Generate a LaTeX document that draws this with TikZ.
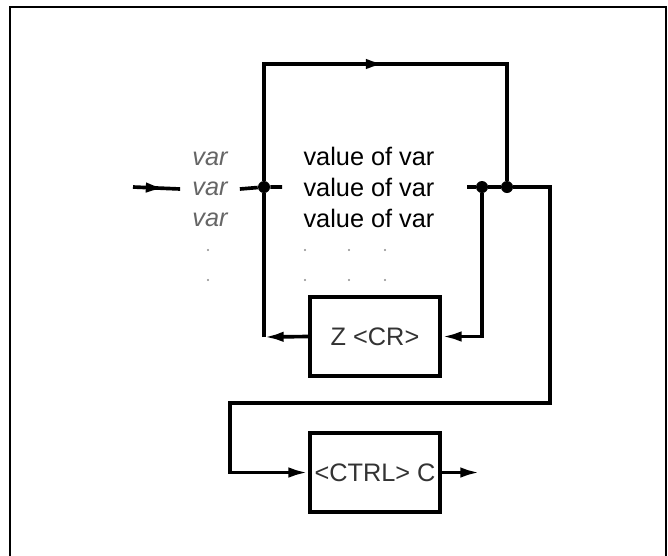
\documentclass[tikz,border=0pt]{standalone}
\usepackage{fontspec}
\setmainfont{Liberation Sans}
\usepackage{tikz}
\usetikzlibrary{arrows.meta, positioning, decorations.markings}

\begin{document}
\begin{tikzpicture}[
  x=0.025cm, y=-0.025cm,
  line/.style={line width=2.6pt},
  tip/.style={-{Latex[length=14pt,width=7.5pt]}},
  midarrow/.style={postaction={decorate, decoration={markings,
      mark=at position #1 with {\arrow{Latex[length=14pt,width=7.5pt]}}}}},
  midarrow/.default=0.5,
  box/.style={rectangle, draw=black, line width=2.6pt, inner sep=0pt,
              minimum width=3.25cm, minimum height=1.975cm,
              font=\fontsize{18pt}{21pt}\selectfont, text=black!80},
  vartext/.style={font=\fontsize{18pt}{21pt}\selectfont\itshape, text=black!60,
                  inner xsep=0.3cm, inner ysep=0pt},
  valtext/.style={font=\fontsize{18pt}{21pt}\selectfont, inner sep=0pt},
  dot/.style={circle, fill=black, inner sep=0pt, minimum size=0.3cm},
  faint/.style={circle, fill=black!45, inner sep=0pt, minimum size=0.06cm},
  frame/.style={line width=1.8pt}
]
\useasboundingbox (0,0) rectangle (668,555);
\draw[frame] (10,560) |- (666,7) -- (666,560);

\node[vartext] (var1) at (210,159) {var};
\node[vartext] (var2) at (210,189) {var};
\node[vartext] (var3) at (210,220) {var};
\node[faint] (vdot1) at (208,250) {};
\node[faint] (vdot2) at (208,280) {};

\node[valtext] (value1) at (369,156) {value of var};
\node[valtext] (value2) at (369,187) {value of var};
\node[valtext] (value3) at (369,218) {value of var};
\foreach \xx/\nm in {305/a, 349/b, 385/c} {
  \node[faint] (dot\nm1) at (\xx,250) {};
  \node[faint] (dot\nm2) at (\xx,280) {};
}

\node[box] (zbox) at (375,336.5) {Z <CR>};
\node[box] (ctrlbox) at (375,472.5) {<CTRL> C};

\node[dot] (jl) at (264,187) {};
\node[dot] (jr1) at (482,187) {};
\node[dot] (jr2) at (507,187) {};
\coordinate (in) at (133,187);
\coordinate (stubl) at (282,187);
\coordinate (stubr) at (467,187);
\coordinate (topl) at (264,64);
\coordinate (cornl) at (264,337);
\coordinate (bendr) at (550,403);
\coordinate (bendl) at (230,403);
\coordinate (exit) at (480,472.5);

\draw[line, midarrow=0.69] (in) -- (var2.west);
\draw[line] (var2.east) -- (jl) -- (stubl);
\draw[line, midarrow=0.5] (jl) -- (topl) -| (jr2);
\draw[line] (stubr) -- (jr1) -- (jr2);
\draw[line] (cornl) -- (jl);
\draw[line, tip] (zbox.west) -- (cornl);
\draw[line, tip] (jr1) |- (zbox.east);
\draw[line, tip] (jr2) -| (bendr) -- (bendl) |- (ctrlbox.west);
\draw[line, tip] (ctrlbox.east) -- (exit);
\end{tikzpicture}
\end{document}
